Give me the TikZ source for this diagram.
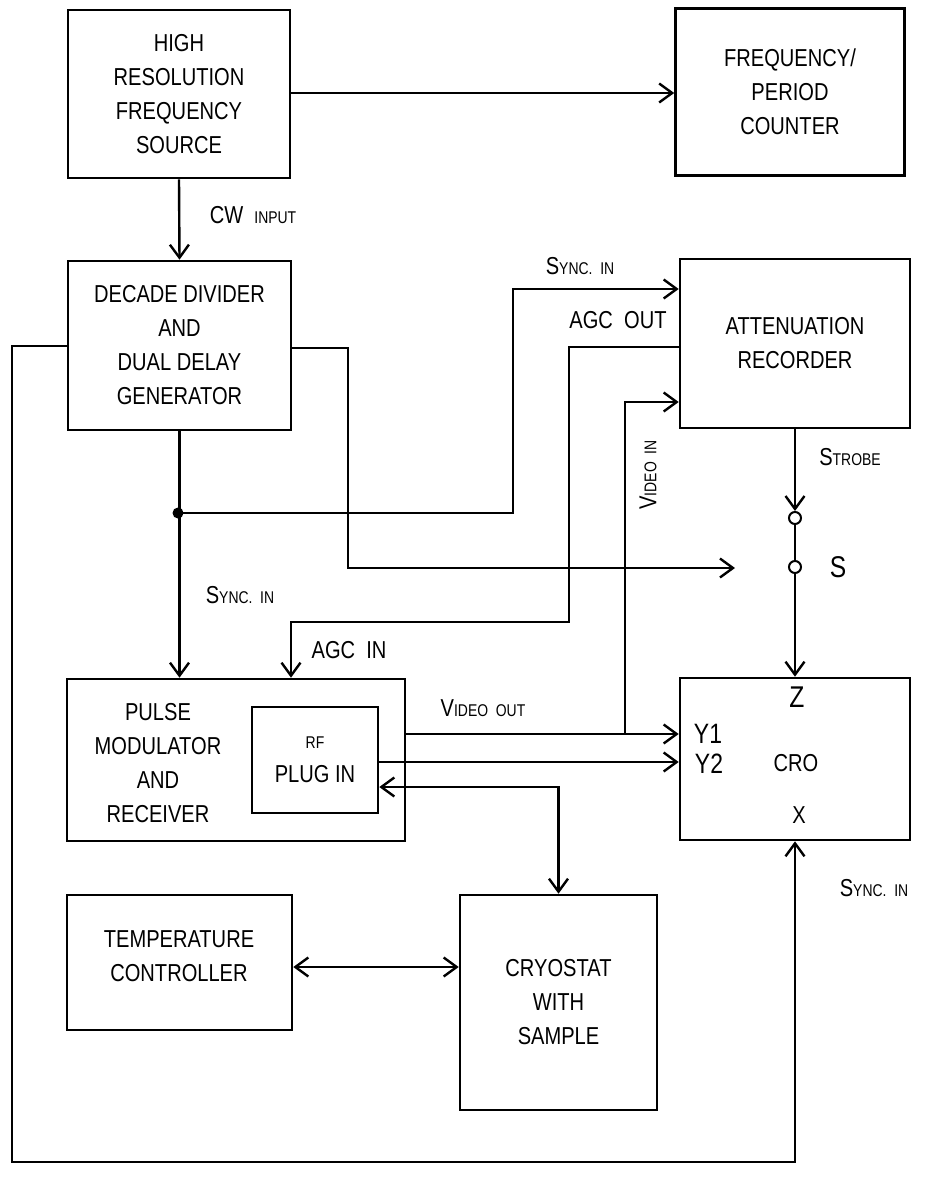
\documentclass[tikz,border=0pt]{standalone}
\usepackage{fontspec}
\setmainfont{Liberation Sans}[FakeStretch=0.82]
\usetikzlibrary{arrows.meta}

\newcommand{\smc}[1]{{\fontsize{17}{17}\selectfont #1}}

\begin{document}
\begin{tikzpicture}[
    x=1pt, y=-1pt,
    >={Straight Barb[length=13pt,width=19pt]},
    line width=2.4pt,
    every node/.style={font=\fontsize{24.5}{34}\selectfont},
    blk/.style={draw, line width=2.6pt, align=center, inner sep=0pt},
    lbl/.style={inner sep=0pt, align=center}
]
\useasboundingbox (0,0) rectangle (926,1178);

%-------------------------
% Blocks
%-------------------------
\node[blk, minimum width=222pt, minimum height=168pt] (hrfs) at (179,94)
    {HIGH\\RESOLUTION\\FREQUENCY\\SOURCE};
\node[blk, minimum width=229pt, minimum height=167pt] (fpc) at (790,92)
    {FREQUENCY/\\PERIOD\\COUNTER};
\node[blk, minimum width=223pt, minimum height=169pt] (dddg) at (179.5,345.5)
    {DECADE DIVIDER\\AND\\DUAL DELAY\\GENERATOR};
\node[blk, minimum width=230pt, minimum height=169pt] (att) at (795,343.5)
    {ATTENUATION\\RECORDER};
\node[blk, minimum width=338pt, minimum height=162pt] (pmr) at (236,760) {};
\node[lbl] (pmrtxt) at (158,763) {PULSE\\MODULATOR\\AND\\RECEIVER};
\node[blk, minimum width=126pt, minimum height=106pt] (rf) at (315,760)
    {\smc{RF}\\PLUG IN};
\node[blk, minimum width=230pt, minimum height=162pt] (cro) at (795,759) {};
\node[blk, minimum width=225pt, minimum height=135pt] (tc) at (179.5,962.5) {};
\node[lbl] (tctxt) at (179,956) {TEMPERATURE\\CONTROLLER};
\node[blk, minimum width=197pt, minimum height=215pt] (cryo) at (558.5,1002.5)
    {CRYOSTAT\\WITH\\SAMPLE};

% CRO inputs
\node[lbl, font=\fontsize{30}{30}\selectfont] (zin) at (797,697) {Z};
\node[lbl, font=\fontsize{28}{28}\selectfont] (y1in) at (708,734) {Y1};
\node[lbl, font=\fontsize{28}{28}\selectfont] (y2in) at (709,764) {Y2};
\node[lbl] (crotxt) at (796,763) {CRO};
\node[lbl] (xin) at (799,815) {X};

%-------------------------
% Switch S
%-------------------------
\node[draw, circle, minimum size=12pt, inner sep=0pt, line width=2pt] (s1) at (795,518) {};
\node[draw, circle, minimum size=12pt, inner sep=0pt, line width=2pt] (s2) at (795,567) {};
\node[lbl, font=\fontsize{30}{30}\selectfont] (slab) at (838,567) {S};

%-------------------------
% Coordinates
%-------------------------
\coordinate (jn) at (178,513);
\coordinate (synctap) at (513,289);
\coordinate (agcA) at (569,347);
\coordinate (agcB) at (291,622);
\coordinate (vtap) at (625,734);
\coordinate (ddbend) at (348,568);
\coordinate (swin) at (735,568);
\coordinate (lowleft) at (12,1162);

%-------------------------
% Connectors
%-------------------------
\draw[->] (hrfs.east |- 0,93) -- (fpc.west |- 0,93);
\draw[->] (hrfs.south) -- (dddg.north);
\draw[->] (dddg.south) -- (dddg.south |- pmr.north);
\fill (jn) circle (5.5pt);
\draw[->] (jn) -| (synctap) -- (synctap -| att.west);
\draw[->] (att.west |- agcA) -- (agcA) |- (agcB) -- (agcB |- pmr.north);
\draw[->] (vtap) |- (att.west |- 0,402);
\draw[->] (dddg.east |- 0,348) -| (ddbend) -- (swin);
\draw[->] (dddg.west |- 0,346) -| (lowleft) -| (cro.south);
\draw[->] (att.south) -- (s1.north);
\draw (s1.south) -- (s2.north);
\draw[->] (s2.south) -- (cro.north);
\draw[->] (pmr.east |- vtap) -- (cro.west |- vtap);
\draw[->] (rf.east |- 0,762) -- (cro.west |- 0,762);
\draw[<->] (rf.east |- 0,787) -| (cryo.north);
\draw[<->] (tc.east |- 0,967) -- (cryo.west |- 0,967);

%-------------------------
% Signal labels
%-------------------------
\node[lbl] (cwlab) at (253,215) {CW\ \ \smc{INPUT}};
\node[lbl] (synclab1) at (580,266) {S\smc{YNC.\ \ IN}};
\node[lbl] (agcoutlab) at (618,320) {AGC\ \ OUT};
\node[lbl, rotate=90] (vinlab) at (648,475) {V\smc{IDEO\ \ IN}};
\node[lbl] (strobelab) at (850,457) {S\smc{TROBE}};
\node[lbl] (synclab2) at (240,595) {S\smc{YNC.\ \ IN}};
\node[lbl] (agcinlab) at (349,650) {AGC\ \ IN};
\node[lbl] (voutlab) at (483,708) {V\smc{IDEO\ \ OUT}};
\node[lbl] (synclab3) at (874,888) {S\smc{YNC.\ \ IN}};
\end{tikzpicture}
\end{document}
